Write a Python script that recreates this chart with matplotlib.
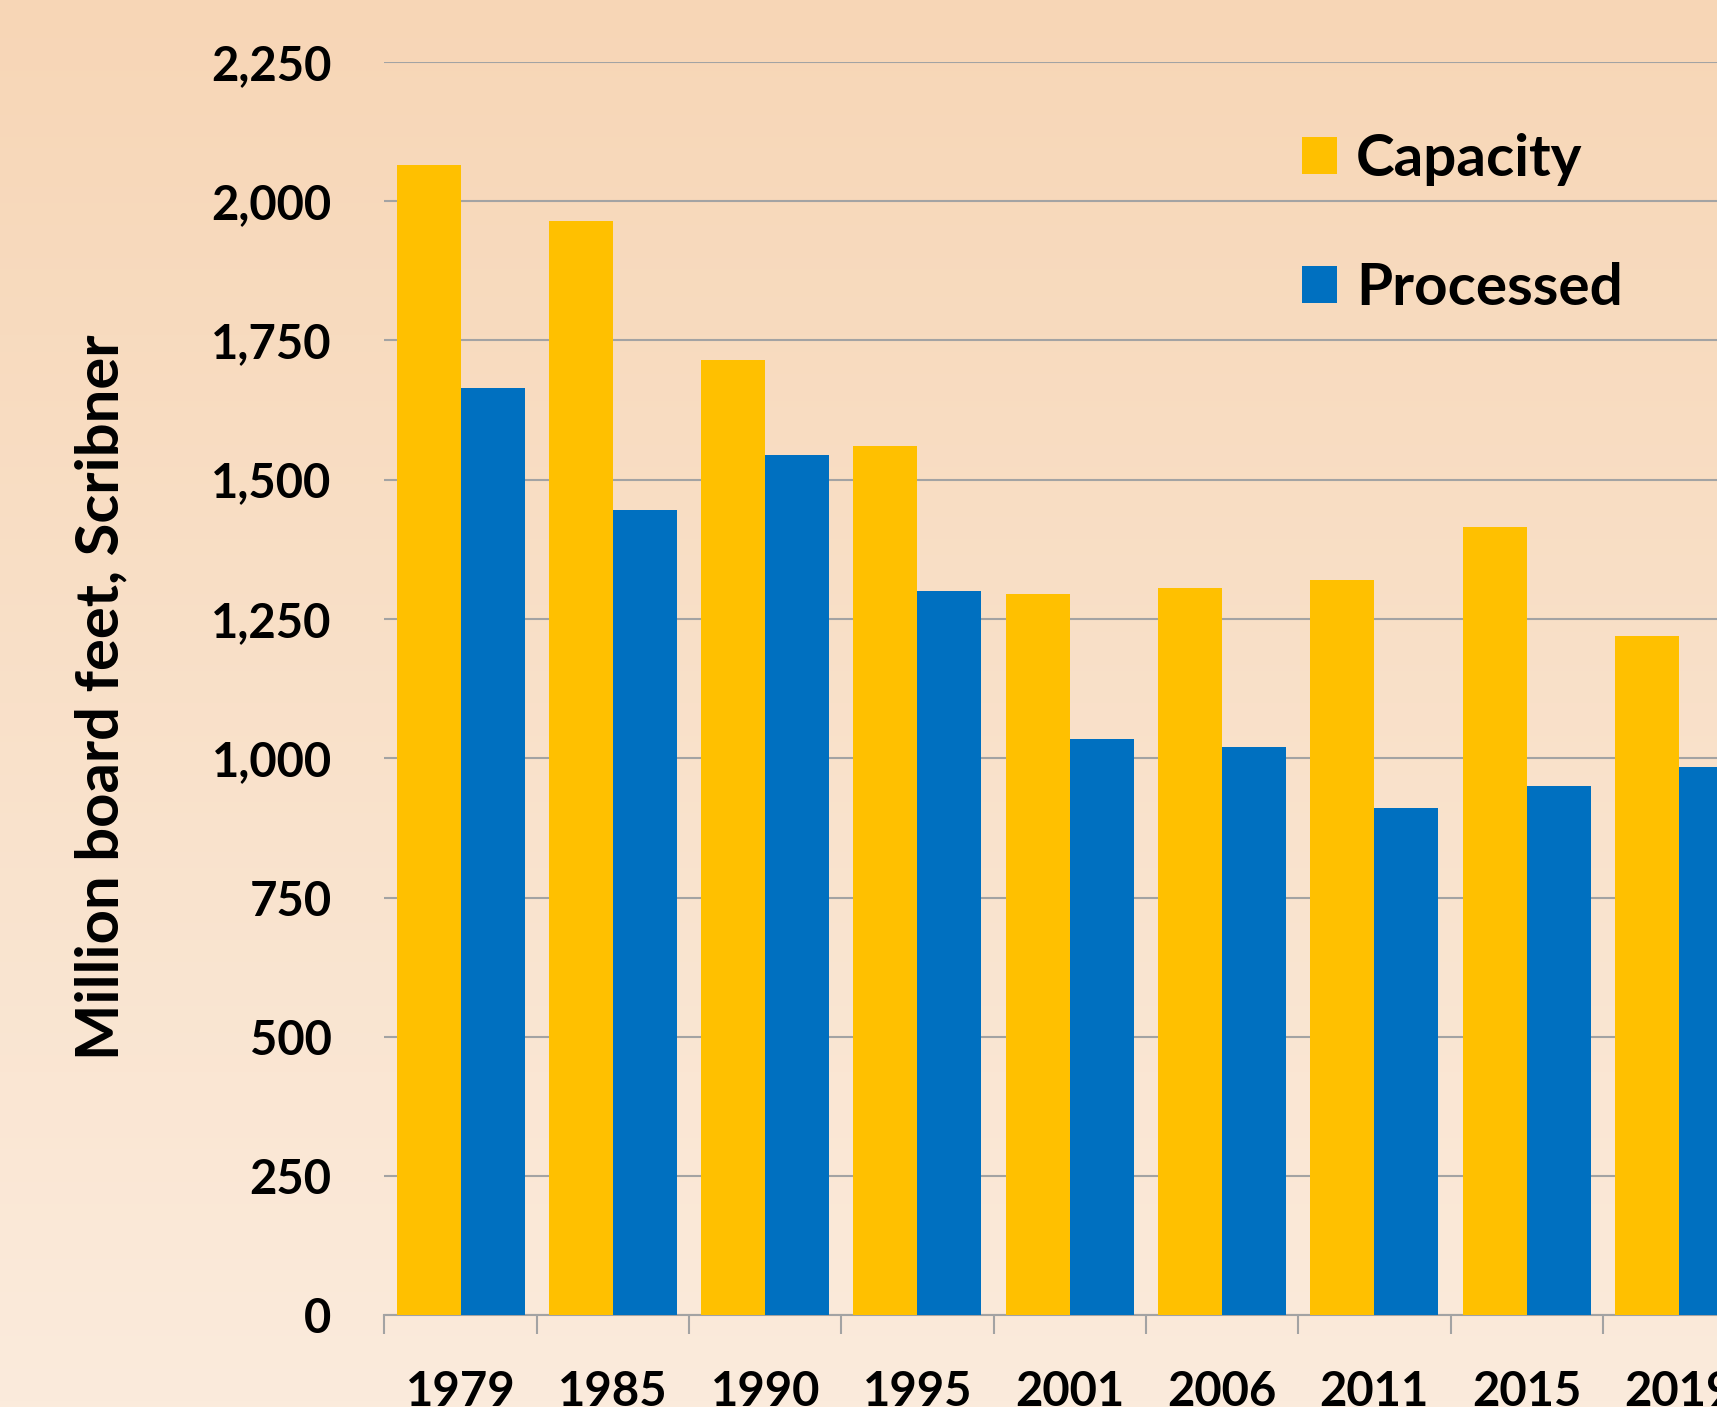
import numpy as np
import matplotlib
matplotlib.use("Agg")
import matplotlib.pyplot as plt
from matplotlib.ticker import FuncFormatter, MultipleLocator

years = ["1979", "1985", "1990", "1995", "2001", "2006", "2011", "2015", "2019"]
capacity = [2065, 1965, 1715, 1560, 1295, 1305, 1320, 1415, 1220]
processed = [1665, 1445, 1545, 1300, 1035, 1020, 910, 950, 985]

CAP_COLOR = "#FFC000"
PROC_COLOR = "#0070C0"
GRID_COLOR = "#A3A3A3"

plt.rcParams["font.family"] = ["Lato", "DejaVu Sans"]
plt.rcParams["font.weight"] = "bold"

W, H = 1717, 1407
fig = plt.figure(figsize=(W / 100, H / 100), dpi=100)

# background gradient (peach at top, lighter at bottom)
bg = fig.add_axes([0, 0, 1, 1], zorder=-10)
top = np.array([247, 214, 182]) / 255
bottom = np.array([251, 235, 220]) / 255
t = np.linspace(0, 1, 256)[:, None]
grad = top[None, :] * (1 - t) + bottom[None, :] * t
bg.imshow(grad[:, None, :], aspect="auto", extent=[0, 1, 0, 1])
bg.axis("off")

# axes geometry in pixels (the chart is cut off on the right)
left_px, right_px = 384.4, 384.4 + 9 * 152.3
top_px, bot_px = 61.7, 1315.4
ax = fig.add_axes([left_px / W, 1 - bot_px / H,
                   (right_px - left_px) / W, (bot_px - top_px) / H])
ax.set_facecolor("none")

x = np.arange(len(years))
w = 0.42
ax.bar(x - w / 2, capacity, width=w, color=CAP_COLOR, label="Capacity", zorder=3)
ax.bar(x + w / 2, processed, width=w, color=PROC_COLOR, label="Processed", zorder=3)

ax.set_xlim(-0.5, len(years) - 0.5)
ax.set_ylim(0, 2250)
ax.yaxis.set_major_locator(MultipleLocator(250))
ax.yaxis.set_major_formatter(FuncFormatter(lambda v, p: f"{int(v):,}"))
ax.grid(axis="y", color=GRID_COLOR, linewidth=1.5, zorder=0)
ax.set_axisbelow(True)

for s in ["top", "right", "left"]:
    ax.spines[s].set_visible(False)
ax.spines["bottom"].set_color(GRID_COLOR)
ax.spines["bottom"].set_linewidth(1.5)

ax.set_xticks(x)
ax.set_xticklabels(years)
ax.set_xticks(np.arange(len(years)) - 0.5, minor=True)
ax.tick_params(axis="x", which="major", length=0, pad=39, labelsize=34)
ax.tick_params(axis="x", which="minor", length=14, width=1.5, color=GRID_COLOR)
ax.tick_params(axis="y", length=0, pad=38, labelsize=34)

fig.text(101 / W, 1 - 697 / H, "Million board feet, Scribner",
         rotation=90, ha="center", va="center", fontsize=43, fontweight="bold")

ax.legend(loc="upper left", bbox_to_anchor=(1279 / W, 1 - 110 / H),
          bbox_transform=fig.transFigure, frameon=False, fontsize=42,
          handlelength=0.6, handleheight=0.6, handletextpad=0.32,
          labelspacing=1.3, borderaxespad=0)

fig.savefig("out.png", dpi=100)
